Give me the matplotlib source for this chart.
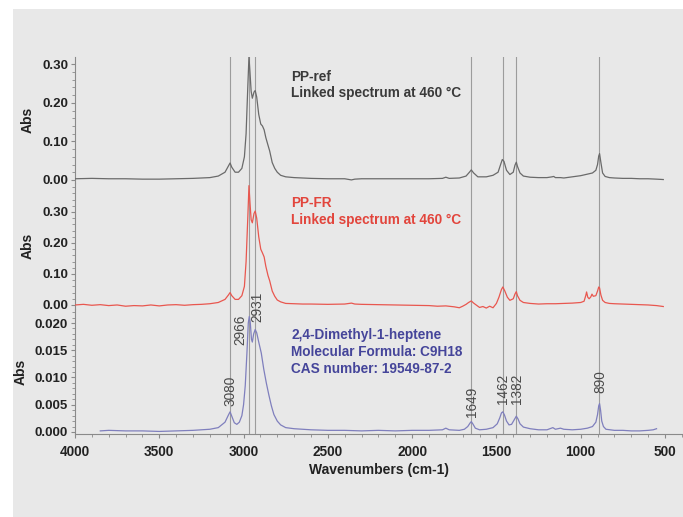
import matplotlib
matplotlib.use("Agg")
import matplotlib.pyplot as plt
from matplotlib.patches import Rectangle
from matplotlib.ticker import MultipleLocator, FixedLocator

# ---------------- data ----------------
ref_wn = [4000, 3900, 3800, 3700, 3600, 3500, 3400, 3300, 3200, 3150, 3110, 3090, 3080, 3070, 3050, 3030,
          3010, 2995, 2985, 2975, 2968, 2962, 2955, 2948, 2938, 2931, 2922, 2910, 2898, 2888, 2878, 2868,
          2855, 2845, 2830, 2815, 2800, 2780, 2750, 2700, 2650, 2600, 2500, 2400, 2360, 2340, 2300, 2200,
          2100, 2000, 1900, 1820, 1800, 1780, 1720, 1680, 1660, 1649, 1635, 1610, 1560, 1520, 1490, 1475,
          1465, 1455, 1440, 1420, 1400, 1390, 1382, 1375, 1360, 1340, 1300, 1250, 1200, 1170, 1160, 1150,
          1120, 1100, 1050, 1000, 960, 930, 910, 900, 893, 888, 880, 870, 855, 830, 800, 750, 700, 650,
          600, 550, 510]
ref_abs = [0.003, 0.004, 0.003, 0.003, 0.002, 0.002, 0.003, 0.004, 0.006, 0.010, 0.020, 0.036, 0.044, 0.033,
           0.020, 0.020, 0.030, 0.060, 0.120, 0.240, 0.320, 0.280, 0.230, 0.212, 0.228, 0.232, 0.215, 0.170,
           0.145, 0.140, 0.130, 0.110, 0.090, 0.075, 0.045, 0.030, 0.020, 0.012, 0.008, 0.006, 0.005, 0.004,
           0.003, 0.003, 0.000, 0.002, 0.003, 0.003, 0.003, 0.003, 0.003, 0.004, 0.007, 0.004, 0.005, 0.010,
           0.020, 0.026, 0.018, 0.008, 0.008, 0.012, 0.020, 0.040, 0.053, 0.048, 0.025, 0.014, 0.020, 0.038,
           0.046, 0.035, 0.018, 0.010, 0.007, 0.006, 0.006, 0.008, 0.009, 0.006, 0.006, 0.005, 0.008, 0.011,
           0.015, 0.018, 0.025, 0.040, 0.062, 0.068, 0.045, 0.018, 0.009, 0.006, 0.005, 0.004, 0.004, 0.003,
           0.003, 0.002, 0.001]

fr_wn = [4000, 3950, 3900, 3850, 3800, 3750, 3700, 3650, 3600, 3550, 3500, 3450, 3400, 3350, 3300, 3250,
         3200, 3150, 3110, 3090, 3080, 3070, 3050, 3030, 3010, 2995, 2985, 2975, 2968, 2962, 2955, 2948,
         2938, 2931, 2922, 2910, 2898, 2888, 2878, 2868, 2855, 2845, 2830, 2815, 2800, 2780, 2750, 2700,
         2650, 2600, 2500, 2400, 2360, 2340, 2300, 2200, 2100, 2000, 1900, 1850, 1800, 1750, 1720, 1700,
         1680, 1665, 1649, 1635, 1620, 1600, 1580, 1560, 1540, 1520, 1500, 1485, 1470, 1462, 1450, 1435,
         1420, 1400, 1390, 1382, 1375, 1360, 1340, 1300, 1250, 1200, 1150, 1100, 1050, 1000, 980, 970,
         965, 958, 950, 940, 933, 925, 910, 900, 893, 888, 880, 870, 855, 830, 800, 750, 700, 650, 600,
         550, 510]
fr_abs = [0.000, 0.002, -0.001, 0.001, -0.002, 0.000, -0.004, -0.002, -0.003, 0.000, -0.003, 0.000, 0.001,
          -0.001, 0.001, 0.002, 0.004, 0.008, 0.018, 0.032, 0.040, 0.030, 0.018, 0.018, 0.030, 0.060, 0.140,
          0.280, 0.385, 0.330, 0.275, 0.265, 0.295, 0.303, 0.280, 0.220, 0.180, 0.168, 0.155, 0.125, 0.095,
          0.078, 0.045, 0.028, 0.016, 0.010, 0.005, 0.004, 0.003, 0.003, 0.002, 0.003, 0.006, 0.003, 0.002,
          0.001, 0.000, -0.001, -0.002, -0.004, -0.003, -0.006, -0.009, -0.004, 0.002, 0.008, 0.013, 0.006,
          0.000, -0.008, -0.005, -0.010, -0.004, -0.009, 0.005, 0.025, 0.050, 0.058, 0.045, 0.025, 0.015,
          0.020, 0.035, 0.043, 0.030, 0.015, 0.008, 0.005, 0.003, 0.004, 0.004, 0.005, 0.006, 0.008, 0.012,
          0.030, 0.042, 0.025, 0.020, 0.026, 0.035, 0.028, 0.030, 0.045, 0.058, 0.055, 0.032, 0.015, 0.008,
          0.005, 0.004, 0.003, 0.002, 0.001, 0.000, -0.002, -0.005]

lib_wn = [3850, 3800, 3700, 3600, 3500, 3400, 3300, 3200, 3150, 3110, 3090, 3080, 3070, 3055, 3040, 3025,
          3010, 3000, 2990, 2980, 2972, 2966, 2960, 2953, 2948, 2940, 2931, 2922, 2910, 2895, 2880, 2865,
          2850, 2835, 2820, 2800, 2780, 2750, 2700, 2600, 2500, 2400, 2300, 2200, 2100, 2000, 1900, 1820,
          1800, 1780, 1720, 1690, 1670, 1655, 1649, 1640, 1625, 1600, 1560, 1520, 1495, 1480, 1470, 1462,
          1452, 1440, 1425, 1410, 1395, 1382, 1372, 1360, 1340, 1300, 1250, 1200, 1165, 1150, 1120, 1100,
          1050, 1000, 960, 930, 910, 900, 893, 888, 882, 875, 865, 850, 800, 750, 700, 650, 600, 570, 550]
lib_abs = [0.0002, 0.0003, 0.0002, 0.0002, 0.0001, 0.0002, 0.0003, 0.0005, 0.0008, 0.0018, 0.0031, 0.0037,
           0.0029, 0.0017, 0.0014, 0.0018, 0.0030, 0.0050, 0.0085, 0.0145, 0.0200, 0.0212, 0.0200, 0.0170,
           0.0165, 0.0180, 0.0188, 0.0182, 0.0165, 0.0145, 0.0115, 0.0090, 0.0068, 0.0048, 0.0032, 0.0020,
           0.0013, 0.0008, 0.0006, 0.0004, 0.0003, 0.0003, 0.0002, 0.0003, 0.0002, 0.0003, 0.0003, 0.0004,
           0.0007, 0.0004, 0.0003, 0.0005, 0.0010, 0.0017, 0.0019, 0.0015, 0.0007, 0.0004, 0.0005, 0.0008,
           0.0015, 0.0026, 0.0035, 0.0037, 0.0031, 0.0020, 0.0013, 0.0014, 0.0022, 0.0029, 0.0024, 0.0015,
           0.0009, 0.0006, 0.0004, 0.0004, 0.0008, 0.0005, 0.0007, 0.0005, 0.0004, 0.0005, 0.0007, 0.0010,
           0.0018, 0.0032, 0.0048, 0.0052, 0.0040, 0.0020, 0.0010, 0.0005, 0.0003, 0.0003, 0.0002, 0.0002,
           0.0003, 0.0004, 0.0006]

peak_wn = [3080, 2966, 2931, 1649, 1462, 1382, 890]
peak_labels = ["3080", "2966", "2931", "1649", "1462", "1382", "890"]
label_wn = [3080, 3021, 2917, 1645, 1461, 1375, 883]
label_y = [0.0048, 0.0160, 0.0202, 0.00275, 0.0051, 0.0051, 0.0072]

x_ticks = [4000, 3500, 3000, 2500, 2000, 1500, 1000, 500]
ref_ticks = [0.0, 0.1, 0.2, 0.3]
fr_ticks = [0.0, 0.1, 0.2, 0.3]
lib_ticks = [0.0, 0.005, 0.010, 0.015, 0.020]

ref_text = ["PP-ref", "Linked spectrum at 460 °C"]
fr_text = ["PP-FR", "Linked spectrum at 460 °C"]
lib_text = ["2,4-Dimethyl-1-heptene", "Molecular Formula: C9H18", "CAS number: 19549-87-2"]

# ---------------- figure ----------------
W, H = 683, 517
fig = plt.figure(figsize=(W / 100, H / 100), dpi=100)
fig.patch.set_facecolor("white")
fig.patches.append(Rectangle((13 / W, 0), 1 - 13 / W, 1 - 9 / H, transform=fig.transFigure,
                             facecolor="#e8e8e8", edgecolor="none", zorder=-10))

plt.rcParams["font.family"] = ["Liberation Sans", "DejaVu Sans"]

def fy(p):
    return 1 - p / H

left = 75 / W
width = 1 - left
ax1 = fig.add_axes([left, fy(183), width, (183 - 57) / H])
ax2 = fig.add_axes([left, fy(309), width, (309 - 183) / H])
ax3 = fig.add_axes([left, fy(434), width, (434 - 309) / H])

spine_c = "#8a8a8a"
tick_c = "#222222"
for ax in (ax1, ax2, ax3):
    ax.set_facecolor("none")
    ax.set_xlim(4000, 393)
    for s in ("top", "right", "bottom"):
        ax.spines[s].set_visible(False)
    ax.spines["left"].set_color(spine_c)
    ax.spines["left"].set_linewidth(0.8)
    ax.tick_params(axis="y", which="major", length=3, color=spine_c, labelsize=9.5,
                   labelcolor=tick_c, pad=2)
    ax.tick_params(axis="y", which="minor", length=2, color=spine_c)
    ax.set_ylabel("Abs", fontsize=10, fontweight="bold", color=tick_c, labelpad=5)
    for w in peak_wn:
        ax.axvline(w, color="#9c9c9c", lw=0.8, zorder=1)

for ax in (ax1, ax2):
    ax.tick_params(axis="x", which="both", bottom=False, labelbottom=False)

ax3.spines["bottom"].set_visible(True)
ax3.spines["bottom"].set_color(spine_c)
ax3.spines["bottom"].set_linewidth(0.8)

# panel 1
ax1.plot(ref_wn, ref_abs, color="#6a6a6a", lw=0.9, zorder=3)
ax1.set_ylim(-0.008, 0.319)
ax1.yaxis.set_major_locator(FixedLocator(ref_ticks))
ax1.set_yticklabels([f"{v:.2f}" for v in ref_ticks])
ax1.yaxis.set_minor_locator(MultipleLocator(0.02))

# panel 2
ax2.plot(fr_wn, fr_abs, color="#e8574f", lw=0.9, zorder=3)
ax2.set_ylim(-0.013, 0.3935)
ax2.yaxis.set_major_locator(FixedLocator(fr_ticks))
ax2.set_yticklabels([f"{v:.2f}" for v in fr_ticks])
ax2.yaxis.set_minor_locator(MultipleLocator(0.02))

# panel 3
ax3.plot(lib_wn, lib_abs, color="#7f7fbd", lw=0.9, zorder=3)
ax3.set_ylim(-0.00037, 0.02257)
ax3.yaxis.set_major_locator(FixedLocator(lib_ticks))
ax3.set_yticklabels([f"{v:.3f}" for v in lib_ticks])
ax3.yaxis.set_minor_locator(MultipleLocator(0.001))
ax3.xaxis.set_major_locator(FixedLocator(x_ticks))
ax3.set_xticklabels([str(v) for v in x_ticks])
ax3.xaxis.set_minor_locator(MultipleLocator(100))
ax3.tick_params(axis="x", which="major", length=3, color=spine_c, labelsize=9.8,
                labelcolor=tick_c, pad=5)
ax3.tick_params(axis="x", which="minor", length=2, color=spine_c)
ax3.set_xlabel("Wavenumbers (cm-1)", fontsize=10, fontweight="bold", color=tick_c, labelpad=3)

for ax in (ax1, ax2, ax3):
    for lab in ax.get_yticklabels() + ax.get_xticklabels():
        lab.set_fontweight("bold")

# text blocks
tx = 291 / W
for i, t in enumerate(ref_text):
    fig.text(tx, fy(77 + 16.5 * i), t, fontsize=9.8, fontweight="bold", color="#3a3a3a", va="center")
for i, t in enumerate(fr_text):
    fig.text(tx, fy(203 + 17 * i), t, fontsize=9.8, fontweight="bold", color="#e2453c", va="center")
for i, t in enumerate(lib_text):
    fig.text(tx, fy(335 + 17 * i), t, fontsize=9.8, fontweight="bold", color="#45459a", va="center")

# peak labels
for w, yv, lab in zip(label_wn, label_y, peak_labels):
    ax3.text(w, yv, lab, rotation=90, ha="center", va="bottom", fontsize=9.8,
             color="#4a4a4a", clip_on=False, zorder=5)

fig.savefig("out.png", dpi=100, facecolor=fig.get_facecolor())
